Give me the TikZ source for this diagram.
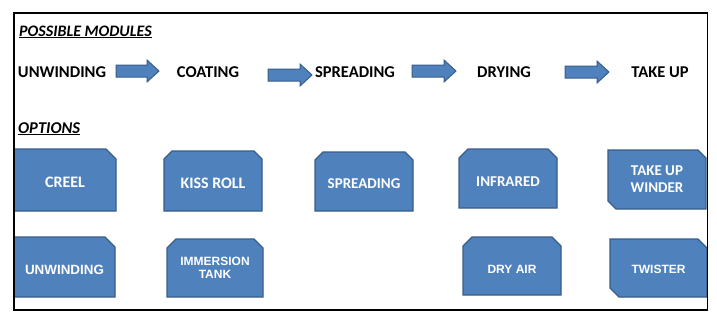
\documentclass[tikz,border=0pt]{standalone}
\usepackage{fontspec}
\setmainfont{Carlito}
\newfontfamily\calib{Carlito}
\newfontfamily\arialf{Liberation Sans}
\usetikzlibrary{backgrounds}
\definecolor{boxblue}{HTML}{4F81BD}
\definecolor{boxedge}{HTML}{385D8A}
\tikzset{
  optbox/.style={shape=rectangle,inner sep=0pt,outer sep=0pt,text=white,align=center},
  optshape/.style={fill=boxblue,draw=boxedge,line width=1.3pt,line join=miter},
  calfont/.style={font=\calib\bfseries\fontsize{15}{17}\selectfont},
  arifont/.style={font=\arialf\bfseries\fontsize{12}{13}\selectfont},
  modlabel/.style={anchor=base,inner sep=0pt,font=\calib\bfseries\fontsize{16.5}{18}\selectfont},
  heading/.style={anchor=base west,inner sep=0pt,font=\calib\bfseries\itshape\fontsize{16}{18}\selectfont},
  blockarrow/.style={fill=boxblue,draw=boxedge,line width=1pt,line join=miter}
}
\newcommand{\snipshape}[5]{%
  \path[optshape] ([yshift=-#2]#1.north west) -- ([xshift=#2]#1.north west)
   -- ([xshift=-#3]#1.north east) -- ([yshift=-#3]#1.north east)
   -- ([yshift=#4]#1.south east) -- ([xshift=-#4]#1.south east)
   -- ([xshift=#5]#1.south west) -- ([yshift=#5]#1.south west) -- cycle;}
\newcommand{\barrow}[3]{% tail x, tip x, centre y
  \path[blockarrow] (#1,#3-6) -- (#2-12,#3-6) -- (#2-12,#3-11) -- (#2,#3)
   -- (#2-12,#3+11) -- (#2-12,#3+6) -- (#1,#3+6) -- cycle;}
\newcommand{\lowr}[2]{\raisebox{-#1}[\height][\depth]{#2}}
\begin{document}
\begin{tikzpicture}[x=1pt,y=-1pt]
\useasboundingbox (0,0) rectangle (717,319);

% headings
\node[heading] (hmod) at (19,36) {\underline{POSSIBLE MODULES}};
\node[heading,font=\calib\bfseries\itshape\fontsize{16.5}{18}\selectfont] (hopt) at (18,133) {\underline{OPTIONS}};

% module row
\node[modlabel] (m1) at (62,77) {UNWINDING};
\node[modlabel] (m2) at (208,77) {COATING};
\node[modlabel] (m3) at (355,77) {SPREADING};
\node[modlabel] (m4) at (504,77) {DRYING};
\node[modlabel] (m5) at (660,77) {TAKE UP};

\barrow{116}{159}{71}
\barrow{268}{312}{75}
\barrow{412}{456}{71}
\barrow{565}{609}{72}

% option boxes
\node[optbox,calfont,minimum width=102pt,minimum height=62pt] (creel) at (65,180) {\fontsize{16}{18}\selectfont\lowr{2.5pt}{CREEL}};
\node[optbox,calfont,minimum width=98pt,minimum height=60pt] (kiss) at (213,181) {\fontsize{16}{18}\selectfont\lowr{2.5pt}{KISS ROLL}};
\node[optbox,calfont,minimum width=98pt,minimum height=59pt] (spread) at (364,181.5) {\lowr{2pt}{SPREADING}};
\node[optbox,calfont,minimum width=98pt,minimum height=59pt] (infra) at (508,178.5) {\lowr{3pt}{INFRARED}};
\node[optbox,calfont,minimum width=98pt,minimum height=59pt] (takeup) at (657,179.5) {TAKE UP\\WINDER};
\node[optbox,arifont,minimum width=101pt,minimum height=60pt] (unw) at (64.5,267) {\fontsize{13.4}{15}\selectfont\lowr{2.5pt}{UNWINDING}};
\node[optbox,arifont,minimum width=96pt,minimum height=58pt] (imm) at (215,268) {IMMERSION\\TANK};
\node[optbox,arifont,minimum width=98pt,minimum height=58pt] (dry) at (512,266) {\lowr{3pt}{DRY AIR}};
\node[optbox,arifont,minimum width=97pt,minimum height=58pt] (twist) at (658.5,268) {\lowr{1pt}{TWISTER}};

\begin{scope}[on background layer]
\fill[white] (0,0) rectangle (717,319);
\snipshape{creel}{0pt}{10pt}{0pt}{0pt}
\snipshape{kiss}{8pt}{8pt}{0pt}{0pt}
\snipshape{spread}{8pt}{8pt}{0pt}{0pt}
\snipshape{infra}{9pt}{9pt}{0pt}{0pt}
\snipshape{takeup}{0pt}{8pt}{0pt}{8pt}
\snipshape{unw}{0pt}{10pt}{0pt}{0pt}
\snipshape{imm}{9pt}{9pt}{0pt}{0pt}
\snipshape{dry}{9pt}{9pt}{0pt}{0pt}
\snipshape{twist}{0pt}{9pt}{0pt}{9pt}
\end{scope}

% frame
\draw[line width=1.3pt] (14,13) rectangle (707.5,310);
\end{tikzpicture}
\end{document}
